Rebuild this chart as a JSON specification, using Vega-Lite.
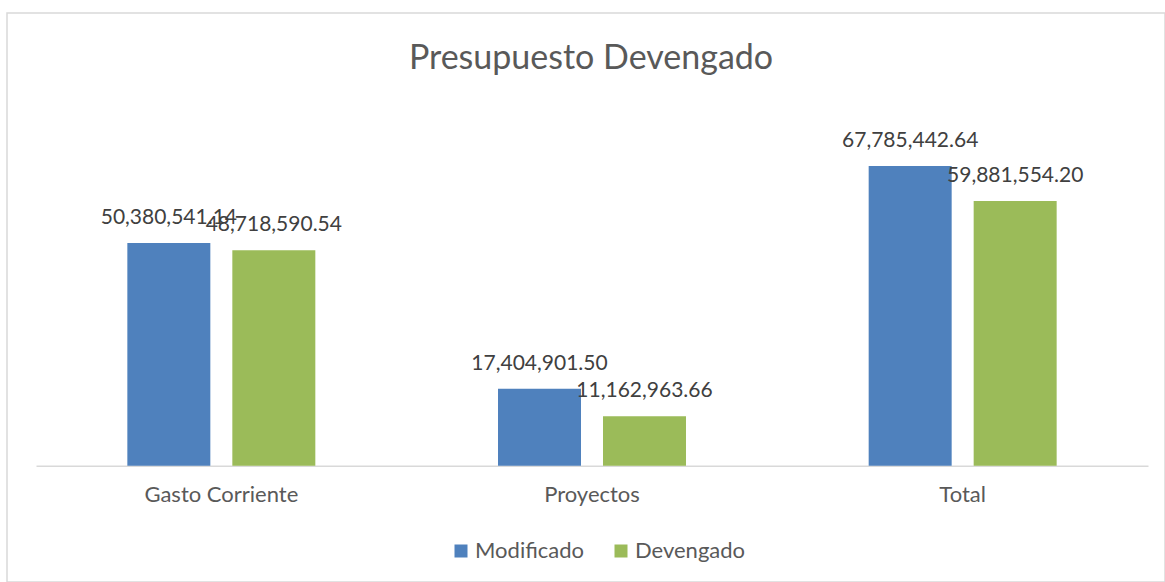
{
  "$schema": "https://vega.github.io/schema/vega-lite/v6.json",
  "width": 1158,
  "height": 569,
  "autosize": {"type": "none"},
  "padding": {"left": 7, "top": 13, "right": 0, "bottom": 0},
  "background": "white",
  "config": {
    "view": {"stroke": "#d9d9d9", "strokeWidth": 1.5},
    "font": "Lato"
  },
  "title": {
    "text": "Presupuesto Devengado",
    "font": "Lato",
    "fontSize": 34,
    "fontWeight": "normal",
    "color": "#595959",
    "anchor": "middle",
    "frame": "group",
    "offset": -63,
    "dx": 5
  },
  "data": {
    "values": [
      {"categoria": "Gasto Corriente", "serie": "Modificado", "valor": 50380541.14},
      {"categoria": "Gasto Corriente", "serie": "Devengado", "valor": 48718590.54},
      {"categoria": "Proyectos", "serie": "Modificado", "valor": 17404901.50},
      {"categoria": "Proyectos", "serie": "Devengado", "valor": 11162963.66},
      {"categoria": "Total", "serie": "Modificado", "valor": 67785442.64},
      {"categoria": "Total", "serie": "Devengado", "valor": 59881554.20}
    ]
  },
  "encoding": {
    "x": {
      "field": "categoria",
      "type": "nominal",
      "sort": ["Gasto Corriente", "Proyectos", "Total"],
      "scale": {"range": [29, 1141], "paddingInner": 0, "paddingOuter": 0},
      "axis": {
        "title": null,
        "offset": -116.3,
        "ticks": false,
        "labelAngle": 0,
        "labelFont": "Lato",
        "labelFontSize": 22,
        "labelColor": "#595959",
        "labelPadding": 19,
        "domainColor": "#d9d9d9",
        "domainWidth": 1.5,
        "grid": false
      }
    },
    "xOffset": {
      "field": "serie",
      "type": "nominal",
      "sort": ["Modificado", "Devengado"],
      "scale": {"paddingInner": 0.2095, "paddingOuter": 0.87}
    },
    "y": {
      "field": "valor",
      "type": "quantitative",
      "scale": {"domain": [0, 80000000], "range": [452.7, 99.1], "nice": false},
      "axis": null
    }
  },
  "layer": [
    {
      "mark": {"type": "bar"},
      "encoding": {
        "color": {
          "field": "serie",
          "type": "nominal",
          "sort": ["Modificado", "Devengado"],
          "scale": {"domain": ["Modificado", "Devengado"], "range": ["#4F81BD", "#9BBB59"]},
          "legend": {
            "title": null,
            "orient": "none",
            "direction": "horizontal",
            "legendX": 443,
            "legendY": 527,
            "padding": 0,
            "symbolType": "square",
            "symbolSize": 169,
            "symbolStrokeWidth": 0,
            "labelFont": "Lato",
            "labelFontSize": 22,
            "labelColor": "#595959",
            "labelOffset": 3,
            "columnPadding": 26
          }
        }
      }
    },
    {
      "mark": {"type": "text", "baseline": "alphabetic", "dy": -19, "fontSize": 21, "font": "Lato", "color": "#404040"},
      "encoding": {
        "text": {"field": "valor", "type": "quantitative", "format": ",.2f"}
      }
    }
  ]
}
